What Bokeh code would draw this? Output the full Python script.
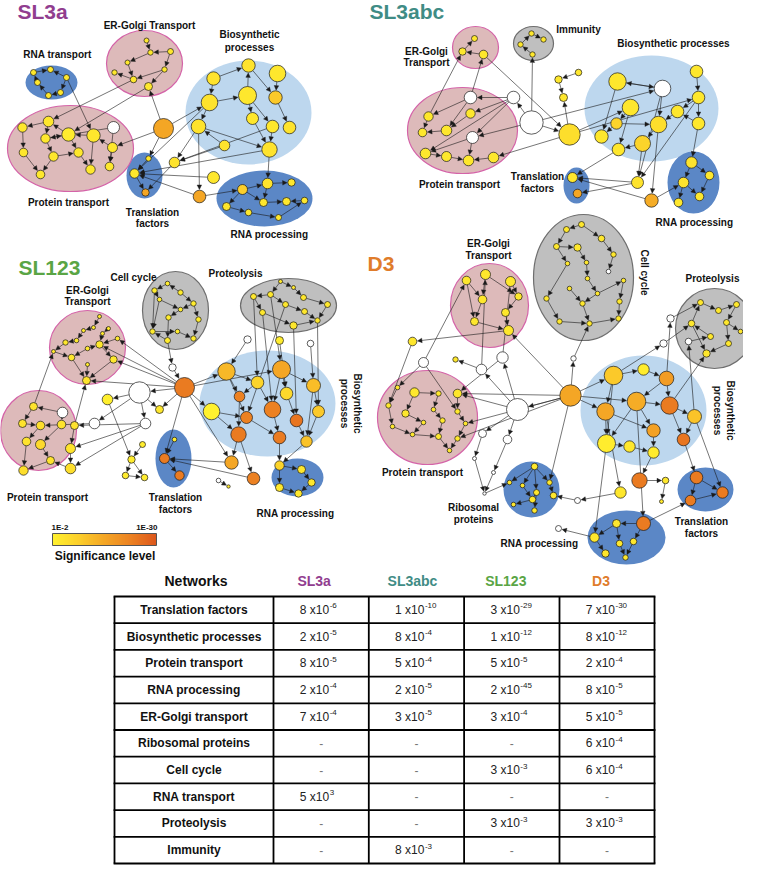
import math
import numpy as np
from bokeh.plotting import figure
from bokeh.models import ColumnDataSource, Arrow, NormalHead, LinearColorMapper, Range1d
from bokeh.core.properties import value
from bokeh.embed import file_html
from bokeh.resources import INLINE

W = float("nan")  # white node (not significant)

# ---------------- network data: (x, y, radius, -log10 significance) ----------------
sl3a_nodes = [
    (33, 72, 3, 4), (50, 69, 3, 4), (66, 77, 3, 4), (60, 92, 3, 4), (48, 95, 3, 4), (37, 82, 3, 4),
    (146, 40, 2.5, 4), (150, 52, 2.7, 4), (170, 51, 3, 4), (127, 62, 2.5, 4), (164, 69, 2.7, 4),
    (114, 72, 2.7, 4), (133, 79, 3.3, 4), (148, 86, 4, 4),
    (48, 121, 5.3, 4), (22, 127, 4.7, 4), (45, 138, 4.7, 4), (68, 134, 6.7, 3), (93, 135, 6.7, 4),
    (113, 127, 6, W), (112, 147, 5, 4), (23, 152, 4.3, 4), (53, 156, 4.7, 4), (78, 152, 4.7, 4),
    (40, 174, 4.3, 4), (90, 169, 4.7, 4), (109, 166, 4.3, 4),
    (163, 128, 10, 16),
    (248, 65, 6.7, 5), (277, 73, 8.3, 4), (213, 78, 6.7, 5), (247, 95, 9, 4), (209, 102, 8.3, 5),
    (275, 97, 6.7, 10), (252, 118, 6, 4), (198, 126, 7.3, 5), (272, 126, 6.3, 4), (289, 127, 6.3, 5),
    (224, 145, 5.3, 5), (269, 149, 7.7, 5),
    (148, 158, 2.7, 4), (134, 173, 4.7, 4), (145, 192, 3.7, 16),
    (174, 162, 5.3, 5), (213, 177, 6, 4), (199, 196, 6.3, 16),
    (267, 183, 5.3, 5), (291, 182, 3.7, 4), (242, 189, 5, 9), (226, 206, 4, 4), (263, 202, 4, 4),
    (286, 201, 4, 4), (304, 200, 3.3, 4), (248, 212, 3.3, 4), (278, 217, 3, 4),
]
sl3a_edges = [
    (0, 1), (2, 1), (5, 0), (2, 3), (3, 4), (4, 5), (2, 18),
    (6, 7), (8, 7), (7, 9), (9, 12), (12, 11), (10, 12), (8, 10), (10, 13), (12, 14), (13, 17), (27, 13),
    (14, 15), (14, 16), (15, 21), (16, 22), (17, 14), (18, 17), (19, 16), (20, 18), (21, 24), (22, 24),
    (17, 23), (18, 25), (23, 25), (20, 26), (22, 23), (16, 17), (19, 26),
    (27, 20), (27, 32), (27, 40),
    (30, 28), (28, 33), (29, 33), (33, 37), (32, 31), (31, 34), (32, 35), (34, 39), (35, 39), (31, 36),
    (36, 39), (38, 35), (30, 32), (31, 28),
    (39, 41), (36, 43), (35, 43), (38, 43), (32, 41), (44, 41), (43, 42), (45, 41), (40, 41), (41, 42),
    (39, 46), (35, 45), (45, 48), (48, 46), (46, 47), (46, 50), (48, 49), (48, 50), (50, 51), (52, 51),
    (49, 53), (53, 54), (54, 52),
]

sl3abc_nodes = [
    (474, 38, 3, 4), (462, 51, 3.7, 4), (483, 54, 4.3, 4),
    (531, 33, 2.7, 4), (543, 39, 2.7, 4), (520, 44, 2.7, 4), (532, 54, 2.7, 4),
    (578, 72, 3.3, 4), (558, 79, 3.7, 4), (563, 97, 4, 4),
    (470, 97, 6.3, W), (513, 97, 6.3, W), (428, 116, 4.7, 4), (470, 113, 4.7, 4), (422, 132, 4.3, 4),
    (446, 130, 5.3, 4), (472, 137, 6, W), (425, 153, 5.3, 4), (446, 156, 5, 4), (468, 160, 5.3, 4),
    (493, 157, 5.3, 4),
    (531, 122, 11.7, W),
    (569, 134, 10.7, 6),
    (617, 81, 8.7, 4), (696, 71, 6.3, 4), (662, 88, 8.3, W), (698, 97, 6.3, 4), (630, 107, 8.3, 4),
    (677, 111, 6.3, 4), (616, 123, 5.7, 8), (658, 124, 8.3, 6), (698, 123, 6.3, 4), (601, 136, 6.7, 4),
    (642, 143, 8, 8), (618, 149, 6.3, 4),
    (572, 177, 5, 4), (577, 193, 4.3, 16),
    (637, 182, 6, 5), (651, 200, 6.7, 15),
    (691, 162, 5.7, 5), (709, 175, 4.3, 4), (683, 182, 5.3, 5), (699, 196, 4.3, 4), (678, 202, 4.3, 4),
]
sl3abc_edges = [
    (1, 0), (2, 1), (3, 4), (5, 3), (6, 5), (7, 8), (8, 9), (22, 9), (21, 6),
    (12, 1), (10, 2), (2, 22),
    (11, 10), (11, 13), (11, 17), (10, 12), (13, 15), (12, 14), (15, 14), (16, 19), (17, 18), (18, 19),
    (20, 19), (16, 17), (10, 15), (11, 16),
    (21, 11), (21, 16), (21, 22), (22, 20), (21, 25), (22, 26), (22, 27),
    (23, 25), (24, 26), (26, 31), (25, 23), (27, 29), (29, 32), (23, 32), (30, 33), (31, 28), (28, 30),
    (26, 28), (25, 30), (27, 34), (33, 34), (29, 30),
    (34, 35), (37, 35), (37, 36), (33, 37), (25, 37), (38, 35), (26, 37),
    (31, 39), (39, 41), (39, 40), (41, 42), (41, 43), (40, 42), (38, 41), (30, 38),
]

sl123_nodes = [
    (167, 283, 2.3, 3), (154, 290, 2.7, 3), (180, 292, 2.7, 3), (159, 299, 2.3, 3), (193, 303, 2.7, 3),
    (180, 309, 2.3, 3), (168, 317, 2.7, 3), (152, 331, 2.7, 3), (177, 331, 2.3, 3), (198, 319, 2.7, 3),
    (167, 340, 3, 3), (193, 338, 2.7, 3),
    (280, 281, 2, 4), (293, 287, 2, 4), (270, 294, 3, 4), (303, 297, 3, 4), (253, 296, 3, 4),
    (285, 304, 3, 4), (327, 304, 3, 4), (262, 312, 3, 4), (304, 311, 3, 4), (317, 320, 2.7, 4),
    (293, 325, 3.7, 4),
    (247, 339, 3.7, W), (279, 340, 4, 3), (310, 343, 3.3, W), (172, 367, 3.7, W),
    (99, 316, 2, 4), (93, 327, 2, 4), (108, 328, 2, 4), (83, 330, 2, 4), (102, 333, 2, 4),
    (117, 338, 2.3, 4), (76, 340, 2.3, 4), (65, 342, 2.7, 4), (99, 344, 3.7, 4), (87, 348, 2.3, 4),
    (53, 351, 2, 4), (71, 357, 3.3, 4), (113, 359, 3.7, 4), (87, 364, 2, 4), (86, 380, 4, 5),
    (33, 406, 4, 5), (62, 412, 5.3, W), (22, 423, 4, 5), (40, 425, 4.3, 6), (61, 424, 4.3, 5),
    (74, 425, 4, 5), (26, 441, 4.3, 5), (40, 444, 5, 7), (70, 448, 5, 5), (50, 460, 4, 5),
    (23, 470, 4.7, 6), (70, 468, 5.3, 6),
    (107, 399, 5.3, 2.5), (139, 392, 10.7, W), (94, 423, 5.3, W), (145, 423, 5.3, W), (159, 409, 4, 4),
    (142, 444, 3, 3), (131, 459, 3.7, 3), (125, 475, 3.3, 3), (144, 477, 3.3, 3),
    (184, 387, 10, 24),
    (226, 371, 8.7, 13), (281, 369, 9, 16), (257, 382, 6.3, 8), (286, 393, 6.3, 7), (313, 385, 7, 12),
    (239, 396, 5.3, 23), (211, 411, 8.3, 2), (246, 417, 6, 23), (272, 409, 8.3, 23), (296, 420, 6.3, 25),
    (318, 411, 6, 10), (238, 434, 7.7, 24), (279, 437, 6.3, 24), (306, 441, 5.7, 11), (231, 462, 6.7, 16),
    (174, 439, 2.3, 3), (164, 458, 5, 24), (179, 475, 4.7, 24),
    (253, 478, 6.3, 23), (218, 480, 2.3, W), (228, 486, 1.7, 4),
    (279, 465, 4.7, 8), (301, 469, 4, 4), (311, 482, 3.7, 4), (279, 487, 4, 4), (298, 493, 3.7, 4),
]
sl123_edges = [
    (0, 1), (2, 0), (1, 3), (3, 7), (2, 4), (4, 9), (5, 6), (6, 10), (7, 8), (8, 11), (9, 11), (10, 7),
    (3, 5), (1, 7), (4, 5),
    (12, 13), (14, 16), (13, 15), (14, 17), (17, 20), (16, 19), (20, 21), (19, 22), (22, 21), (18, 21),
    (15, 18), (12, 14),
    (23, 64), (24, 67), (25, 68), (19, 72), (16, 66), (17, 71), (14, 65), (22, 73), (21, 74),
    (10, 26), (26, 63),
    (27, 28), (28, 30), (29, 31), (31, 35), (30, 33), (33, 34), (34, 37), (36, 38), (38, 41), (39, 41),
    (37, 38), (35, 39), (40, 41), (36, 35), (32, 35),
    (63, 41), (63, 35), (63, 39), (63, 32),
    (42, 44), (43, 42), (43, 46), (45, 48), (46, 49), (47, 50), (48, 52), (49, 51), (50, 53), (51, 52),
    (44, 45), (53, 51),
    (42, 37), (47, 41),
    (63, 55), (55, 56), (55, 57), (55, 54), (57, 47), (57, 50), (57, 53), (56, 45), (63, 58), (54, 60),
    (59, 60), (60, 62), (61, 62), (60, 61), (55, 58),
    (63, 64), (63, 70), (63, 65), (63, 80), (63, 78),
    (64, 66), (64, 69), (64, 71), (65, 67), (65, 68), (66, 72), (67, 73), (68, 77), (69, 75), (71, 76),
    (72, 76), (73, 77), (74, 77), (75, 78), (70, 75), (66, 69), (68, 74), (70, 71), (65, 72),
    (78, 80), (82, 80), (79, 80), (80, 81), (76, 85), (85, 86), (86, 87), (85, 88), (88, 89), (87, 89),
    (83, 84), (75, 82), (77, 85),
]

d3_nodes = [
    (566, 229, 3, 4), (581, 224, 3, 4), (601, 238, 3.3, 4), (556, 246, 3, 4), (577, 247, 3.7, 4),
    (613, 254, 2.7, 4), (567, 263, 2.3, 4), (586, 262, 2.3, 4), (608, 271, 2.3, W), (587, 278, 2.3, 4),
    (623, 280, 2.3, 4), (569, 288, 2.3, 4), (597, 293, 2.3, 4), (546, 298, 2.7, 4), (619, 301, 2.7, 4),
    (582, 303, 2.7, 4), (559, 321, 2.7, 4), (589, 323, 2.7, 4), (618, 318, 2.7, 4),
    (700, 302, 3, 4), (718, 310, 3, 4), (736, 304, 3, 4), (691, 323, 3.3, 4), (726, 322, 3, 4),
    (740, 331, 2.3, 4), (688, 341, 3.3, W), (710, 336, 3, 4), (728, 343, 3, 4), (706, 353, 3.7, 4),
    (670, 318, 3.7, W), (663, 343, 3.7, W), (573, 358, 2.7, W),
    (466, 280, 4.3, 4), (485, 274, 5, 4), (510, 281, 5, 4), (482, 299, 4.3, 4), (518, 296, 3.7, 4),
    (505, 312, 4, 4), (474, 321, 4, 4), (508, 330, 5, 4),
    (412, 341, 4.3, 4), (423, 362, 5, W), (455, 359, 2.7, 4), (502, 357, 5.7, W), (481, 369, 5.3, W),
    (397, 387, 2.3, 4), (414, 392, 4.7, 4), (438, 393, 2.7, 4), (457, 393, 4.3, 4), (388, 405, 2.7, 4),
    (433, 409, 2.3, 4), (405, 413, 3.7, 4), (457, 411, 2.7, 4), (423, 422, 2.3, 4), (442, 420, 2.7, 4),
    (465, 423, 2.3, 4), (392, 426, 2.3, 4), (412, 434, 2.3, 4), (438, 436, 3, 4), (457, 438, 2.7, 4),
    (449, 450, 2.3, 4),
    (517, 409, 11, W),
    (570, 395, 10.7, 16),
    (482, 433, 4, W), (507, 439, 4.3, W), (474, 458, 2, W), (493, 472, 2, W), (484, 493, 1.7, W),
    (613, 375, 9.3, 10), (643, 369, 5.7, 3), (666, 378, 7.3, 18), (636, 401, 9.3, 15), (605, 411, 8.7, 16),
    (669, 405, 8.7, 24), (694, 416, 7, 11), (653, 430, 6.7, 17), (683, 439, 6.3, 25), (606, 443, 9, 3),
    (629, 446, 5.7, 4), (653, 452, 5.7, 3),
    (534, 466, 3.3, 4), (509, 482, 2.3, 4), (522, 485, 2.3, 4), (549, 482, 2.7, 4), (536, 492, 3, 4),
    (553, 495, 3.3, 4), (532, 499, 3.3, 4), (513, 504, 2.3, 4), (534, 510, 2.7, 4),
    (577, 500, 3, W), (558, 528, 3, W), (620, 492, 5.7, 4), (639, 480, 7.7, 24), (665, 480, 3.3, 4),
    (661, 501, 2, 4),
    (696, 477, 6.3, 24), (722, 492, 5.7, 24), (690, 500, 5.3, 24),
    (643, 523, 7, 24), (616, 523, 4, 4), (594, 537, 4.7, 4), (619, 543, 3.3, 4), (633, 541, 3.3, 4),
    (605, 553, 3.7, 4), (625, 557, 2.7, 4),
]
d3_edges = [
    (1, 0), (0, 3), (3, 6), (4, 7), (2, 5), (5, 8), (7, 9), (9, 12), (6, 13), (13, 16), (11, 15),
    (15, 17), (10, 14), (14, 18), (12, 15), (16, 17), (17, 18), (12, 10), (3, 4), (1, 2),
    (31, 17), (62, 31),
    (19, 20), (20, 21), (22, 19), (23, 24), (23, 27), (26, 22), (27, 28), (25, 26), (22, 28), (21, 23),
    (29, 19), (30, 22), (70, 29), (68, 30), (73, 28), (74, 25),
    (33, 36), (34, 36), (35, 38), (32, 38), (33, 35), (36, 37), (37, 39), (38, 39), (32, 35),
    (39, 40), (43, 34), (44, 33), (41, 32), (62, 39),
    (40, 49), (41, 45), (41, 52), (44, 42), (43, 48), (61, 43), (61, 44), (61, 48),
    (62, 61), (62, 55), (62, 48), (62, 59),
    (45, 49), (46, 51), (47, 50), (48, 52), (49, 56), (51, 53), (50, 54), (52, 55), (53, 57), (54, 58),
    (55, 59), (58, 60), (56, 57), (57, 58), (59, 60), (46, 47),
    (61, 63), (63, 65), (65, 67), (61, 64), (64, 66), (67, 81), (66, 67),
    (62, 68), (62, 72), (62, 71), (62, 83),
    (68, 69), (68, 72), (68, 77), (70, 73), (71, 73), (71, 75), (72, 75), (72, 77), (73, 74), (73, 76),
    (74, 76), (75, 79), (77, 78), (78, 79), (71, 77), (70, 71), (69, 70),
    (76, 95), (79, 92), (74, 96), (77, 100), (71, 98), (92, 93), (93, 94), (95, 96), (97, 96), (95, 97),
    (98, 97), (98, 99), (99, 101), (99, 100), (100, 103), (101, 104), (102, 104), (98, 102), (100, 90),
    (89, 85), (91, 89), (72, 91),
    (80, 81), (80, 82), (80, 84), (80, 83), (83, 85), (84, 86), (84, 88), (82, 86), (86, 87),
]

# ---------------- cluster ellipses: (x, y, width, height, kind) ----------------
sl3a_clusters = [(51, 82, 52, 34, "dblue"), (144, 63, 76, 66, "pink"), (70, 148, 126, 86, "pink"),
                 (248, 112, 126, 104, "lblue"), (144, 175, 36, 46, "dblue"), (264, 198, 96, 56, "dblue")]
sl3abc_clusters = [(475, 47, 46, 42, "pink"), (533, 43, 40, 34, "gray"), (462, 130, 110, 86, "pink"),
                   (651, 108, 134, 106, "lblue"), (576, 185, 26, 36, "dblue"), (693, 182, 52, 62, "dblue")]
sl123_clusters = [(175, 310, 66, 78, "gray"), (288, 305, 96, 54, "gray"), (87, 347, 76, 74, "pink"),
                  (38, 430, 76, 80, "pink"), (267, 403, 136, 106, "lblue"), (173, 458, 36, 58, "dblue"),
                  (297, 477, 52, 38, "dblue")]
d3_clusters = [(583, 277, 100, 126, "gray"), (714, 328, 78, 80, "gray"), (489, 305, 78, 84, "pink"),
               (427, 417, 100, 94, "pink"), (643, 410, 126, 110, "lblue"), (531, 489, 56, 56, "dblue"),
               (626, 537, 78, 54, "dblue"), (705, 489, 56, 44, "dblue")]

# ---------------- labels: (text, x, y, rotated) ----------------
sl3a_labels = [("ER-Golgi Transport", 149, 25, 0), ("RNA transport", 57, 54, 0), ("Biosynthetic", 249, 34, 0),
               ("processes", 249, 47, 0), ("Protein transport", 68, 202, 0), ("Translation", 152, 212, 0),
               ("factors", 152, 223, 0), ("RNA processing", 269, 234, 0)]
sl3abc_labels = [("Immunity", 578, 29, 0), ("ER-Golgi", 426, 51, 0), ("Transport", 426, 62, 0),
                 ("Biosynthetic processes", 673, 43, 0), ("Protein transport", 459, 184, 0),
                 ("Translation", 537, 176, 0), ("factors", 537, 188, 0), ("RNA processing", 694, 222, 0)]
sl123_labels = [("Cell cycle", 133, 277, 0), ("Proteolysis", 235, 273, 0), ("ER-Golgi", 87, 290, 0),
                ("Transport", 87, 301, 0), ("Protein transport", 47, 497, 0), ("Translation", 175, 497, 0),
                ("factors", 175, 509, 0), ("RNA processing", 295, 513, 0),
                ("Biosynthetic", 357, 403, 1), ("processes", 344, 403, 1)]
d3_labels = [("ER-Golgi", 488, 243, 0), ("Transport", 488, 255, 0), ("Proteolysis", 712, 278, 0),
             ("Protein transport", 422, 472, 0), ("Ribosomal", 473, 507, 0), ("proteins", 473, 519, 0),
             ("RNA processing", 539, 543, 0), ("Translation", 701, 521, 0), ("factors", 701, 533, 0),
             ("Cell cycle", 644, 272, 1), ("Biosynthetic", 730, 410, 1), ("processes", 717, 410, 1)]

panel_titles = ["SL3a", "SL3abc", "SL123", "D3"]
panel_colors = ["#913D8F", "#3F8C85", "#5AA545", "#E07C2B"]
panel_title_pos = [(17, 11), (369, 11), (18, 267), (367, 263)]

# ---------------- table data ----------------
table_rows = ["Translation factors", "Biosynthetic processes", "Protein transport", "RNA processing",
              "ER-Golgi transport", "Ribosomal proteins", "Cell cycle", "RNA transport", "Proteolysis",
              "Immunity"]
sl3a_p = ["8 x10^-6", "2 x10^-5", "8 x10^-5", "2 x10^-4", "7 x10^-4", "-", "-", "5 x10^3", "-", "-"]
sl3abc_p = ["1 x10^-10", "8 x10^-4", "5 x10^-4", "2 x10^-5", "3 x10^-5", "-", "-", "-", "-", "8 x10^-3"]
sl123_p = ["3 x10^-29", "1 x10^-12", "5 x10^-5", "2 x10^-45", "3 x10^-4", "-", "3 x10^-3", "-", "3 x10^-3", "-"]
d3_p = ["7 x10^-30", "8 x10^-12", "2 x10^-4", "8 x10^-5", "5 x10^-5", "6 x10^-4", "6 x10^-4", "-", "3 x10^-3", "-"]

# colour scale: 1E-2 .. 1E-30
scale_low, scale_high = 2, 30
scale_anchors = [(2, "#FFF12E"), (9, "#FCCF2B"), (16, "#F4A625"), (23, "#EC8222"), (30, "#DD571C")]

# ======================================================================
FONT = value("Liberation Sans")


def h2rgb(h):
    return tuple(int(h[i:i + 2], 16) for i in (1, 3, 5))


palette = []
for k in range(256):
    v = scale_low + (scale_high - scale_low) * k / 255
    for (a, ca), (b, cb) in zip(scale_anchors, scale_anchors[1:]):
        if a <= v <= b:
            t = (v - a) / (b - a)
            c1, c2 = h2rgb(ca), h2rgb(cb)
            palette.append("#%02x%02x%02x" % tuple(round(c1[i] + (c2[i] - c1[i]) * t) for i in range(3)))
            break
mapper = LinearColorMapper(palette=palette, low=scale_low, high=scale_high, nan_color="white")

p = figure(width=743, height=865, x_range=Range1d(0, 743), y_range=Range1d(865, 0),
           output_backend="svg", toolbar_location=None, x_axis_location=None, y_axis_location=None,
           min_border=0)
p.outline_line_color = None
p.grid.visible = False
p.background_fill_color = "white"

styles = {
    "pink": dict(fill_color="#DDBABA", line_color="#D463A8", line_width=1.2),
    "lblue": dict(fill_color="#BDD7EE", line_color=None),
    "dblue": dict(fill_color="#5B87C6", line_color=None),
    "gray": dict(fill_color="#BFBFBF", line_color="#6E6E6E", line_width=1.2),
}

all_clusters = sl3a_clusters + sl3abc_clusters + sl123_clusters + d3_clusters
for kind in ["lblue", "dblue", "pink", "gray"]:
    cl = [c for c in all_clusters if c[4] == kind]
    src = ColumnDataSource(dict(x=[c[0] for c in cl], y=[c[1] for c in cl],
                                w=[c[2] for c in cl], h=[c[3] for c in cl]))
    p.ellipse(x="x", y="y", width="w", height="h", source=src, **styles[kind])


def draw_network(nodes, edges):
    x0, y0, x1, y1 = [], [], [], []
    for a, b in edges:
        ax, ay, ar, _ = nodes[a]
        bx, by, br, _ = nodes[b]
        dx, dy = bx - ax, by - ay
        d = math.hypot(dx, dy) or 1.0
        x0.append(ax + dx * ar / d)
        y0.append(ay + dy * ar / d)
        x1.append(bx - dx * (br + 0.7) / d)
        y1.append(by - dy * (br + 0.7) / d)
    esrc = ColumnDataSource(dict(x0=x0, y0=y0, x1=x1, y1=y1))
    arr = Arrow(end=NormalHead(size=4.5, fill_color="#1a1a1a", line_color="#1a1a1a", line_width=0.4),
                source=esrc, x_start="x0", y_start="y0", x_end="x1", y_end="y1",
                line_color="#1a1a1a", line_width=0.6)
    p.add_layout(arr)
    nsrc = ColumnDataSource(dict(x=[n[0] for n in nodes], y=[n[1] for n in nodes],
                                 size=[2 * n[2] for n in nodes], s=[n[3] for n in nodes]))
    p.scatter(x="x", y="y", size="size", source=nsrc, fill_color={"field": "s", "transform": mapper},
              line_color="#1a1a1a", line_width=0.7, level="overlay")


for nodes, edges in [(sl3a_nodes, sl3a_edges), (sl3abc_nodes, sl3abc_edges),
                     (sl123_nodes, sl123_edges), (d3_nodes, d3_edges)]:
    draw_network(nodes, edges)

# cluster labels
all_labels = sl3a_labels + sl3abc_labels + sl123_labels + d3_labels
for rot, ang in [(0, 0.0), (1, -math.pi / 2)]:
    lb = [l for l in all_labels if l[3] == rot]
    p.text(x=[l[1] for l in lb], y=[l[2] for l in lb], text=[l[0] for l in lb], angle=ang,
           text_font=FONT, text_font_style="bold", text_font_size="10px", text_color="#111111",
           text_align="center", text_baseline="middle", level="overlay")

# panel titles
p.text(x=[t[0] for t in panel_title_pos], y=[t[1] for t in panel_title_pos], text=panel_titles,
       text_color=panel_colors, text_font=FONT, text_font_style="bold", text_font_size="21px",
       text_align="left", text_baseline="middle", level="overlay")

# colour scale legend
grad = np.array([np.linspace(scale_low, scale_high, 200)])
p.image(image=[grad], x=52, y=533, dw=104, dh=12, color_mapper=mapper)
p.quad(left=[52], right=[156], top=[533], bottom=[545], fill_color=None, line_color="#555555", line_width=1)
p.text(x=[51, 157], y=[527, 527], text=["1E-%d" % scale_low, "1E-%d" % scale_high],
       text_align=["left", "right"], text_baseline="middle", text_font=FONT, text_font_style="bold",
       text_font_size="8px", text_color="#111111")
p.text(x=[104.5], y=[555], text=["Significance level"], text_align="center", text_baseline="middle",
       text_font=FONT, text_font_style="bold", text_font_size="12px", text_color="#111111")

# ---------------- table ----------------
tab_top, row_h = 596, 26.7
col_x = [114, 273, 368.3, 463.6, 559, 654]
n_rows = len(table_rows)
hy = [tab_top + k * row_h for k in range(n_rows + 1)]
p.segment(x0=[col_x[0] - 0.9] * len(hy), x1=[col_x[-1] + 0.9] * len(hy), y0=hy, y1=hy, line_color="black",
          line_width=1.8)
p.segment(x0=col_x, x1=col_x, y0=[hy[0]] * len(col_x), y1=[hy[-1]] * len(col_x), line_color="black",
          line_width=1.8)

col_cx = [(col_x[i] + col_x[i + 1]) / 2 for i in range(5)]
header_x = [col_cx[0] + 2, col_cx[1] - 7, col_cx[2] - 4, col_cx[3] - 6, col_cx[4] - 6]
p.text(x=header_x, y=[580] * 5, text=["Networks"] + panel_titles,
       text_color=["#111111"] + panel_colors, text_font=FONT, text_font_style="bold", text_font_size="14px",
       text_align="center", text_baseline="middle")

row_cy = [tab_top + (k + 0.5) * row_h for k in range(n_rows)]
p.text(x=[col_cx[0]] * n_rows, y=row_cy, text=table_rows, text_font=FONT, text_font_style="bold",
       text_font_size="12px", text_color="#111111", text_align="center", text_baseline="middle")

bx, by, bt, ex, ey, et, dx_, dy_ = [], [], [], [], [], [], [], []
for ci, vals in enumerate([sl3a_p, sl3abc_p, sl123_p, d3_p]):
    cx = col_cx[ci + 1]
    for ri, v in enumerate(vals):
        if v == "-":
            dx_.append(cx)
            dy_.append(row_cy[ri])
        else:
            base, expo = v.split("^")
            bx.append(cx + 8)
            by.append(row_cy[ri])
            bt.append(base)
            ex.append(cx + 8.5)
            ey.append(row_cy[ri] - 4)
            et.append(expo)
p.text(x=bx, y=by, text=bt, text_font=FONT, text_font_size="12px", text_color="#222222",
       text_align="right", text_baseline="middle")
p.text(x=ex, y=ey, text=et, text_font=FONT, text_font_size="8px", text_color="#222222",
       text_align="left", text_baseline="middle")
p.text(x=dx_, y=dy_, text=["-"] * len(dx_), text_font=FONT, text_font_size="12px", text_color="#777777",
       text_align="center", text_baseline="middle")

open("out.html", "w").write(file_html(p, INLINE))
